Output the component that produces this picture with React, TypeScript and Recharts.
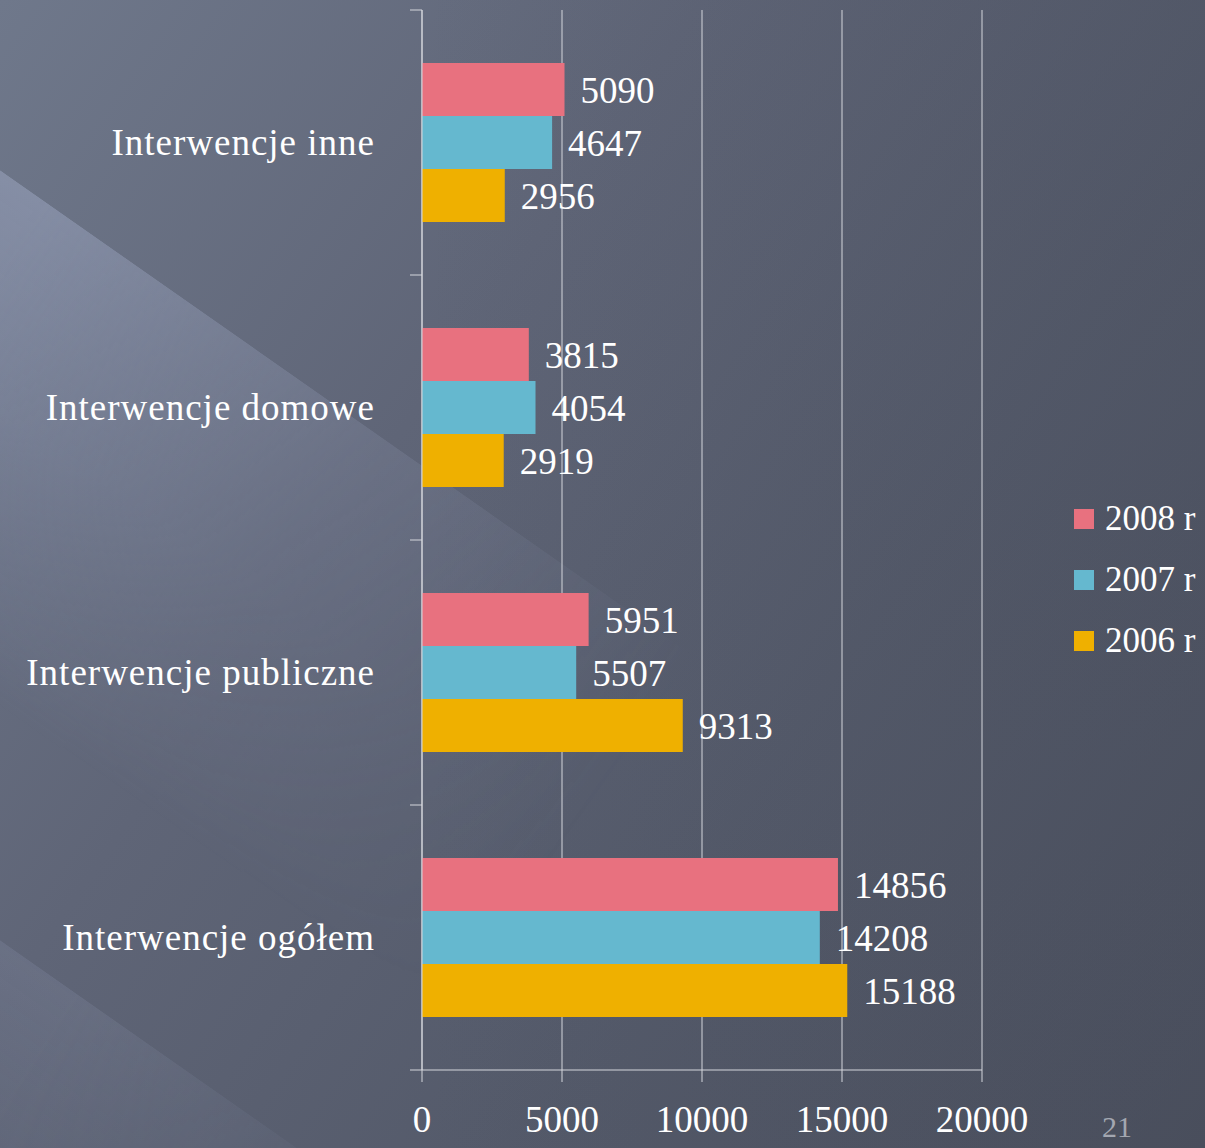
import React from "react";
import {
  BarChart,
  Bar,
  XAxis,
  YAxis,
  CartesianGrid,
  LabelList,
} from "recharts";

const categories = [
  "Interwencje inne",
  "Interwencje domowe",
  "Interwencje publiczne",
  "Interwencje ogółem",
];

const values2008 = [5090, 3815, 5951, 14856];
const values2007 = [4647, 4054, 5507, 14208];
const values2006 = [2956, 2919, 9313, 15188];

const seriesNames = ["2008 r", "2007 r", "2006 r"];
const seriesColors = ["#E8717F", "#65B8CF", "#EFB000"];

const xTicks = [0, 5000, 10000, 15000, 20000];

const FONT = "'Liberation Serif', 'DejaVu Serif', serif";
const TEXT = "#ffffff";
const LINE = "#d4d6dc";

const CHART_W = 1205;
const CHART_H = 1148;
const MARGIN = { top: 10, right: 223, bottom: 0, left: 0 };
const X_AXIS_H = 78;
const Y_LABEL_GAP = 47;
const EDGE_TICK = 12;

// height of one category band, used only for the little separator ticks
const bandHeight =
  (CHART_H - MARGIN.top - MARGIN.bottom - X_AXIS_H) / categories.length;

const chartData = categories.map((name, i) => ({
  name,
  y2008: values2008[i],
  y2007: values2007[i],
  y2006: values2006[i],
}));

const seriesKeys = ["y2008", "y2007", "y2006"];

function CategoryTick(props: any) {
  const { x, y, payload, index } = props;
  const axisX = x + Y_LABEL_GAP;
  const half = bandHeight / 2;
  return (
    <g>
      <line
        x1={axisX - EDGE_TICK}
        x2={axisX}
        y1={y - half}
        y2={y - half}
        stroke={LINE}
      />
      {index === categories.length - 1 && (
        <line
          x1={axisX - EDGE_TICK}
          x2={axisX}
          y1={y + half}
          y2={y + half}
          stroke={LINE}
        />
      )}
      <text
        x={x}
        y={y}
        dy="0.35em"
        textAnchor="end"
        fill={TEXT}
        fontSize={37}
        fontFamily={FONT}
        letterSpacing={1}
      >
        {payload.value}
      </text>
    </g>
  );
}

function LegendBox() {
  return (
    <div
      style={{
        position: "absolute",
        left: 1074,
        top: 488,
        fontFamily: FONT,
      }}
    >
      {seriesNames.map((name, i) => (
        <div
          key={name}
          style={{
            display: "flex",
            alignItems: "center",
            height: 61,
            color: TEXT,
            fontSize: 35,
            whiteSpace: "nowrap",
          }}
        >
          <span
            style={{
              display: "inline-block",
              width: 20,
              height: 20,
              background: seriesColors[i],
              marginRight: 11,
            }}
          />
          {name}
        </div>
      ))}
    </div>
  );
}

export default function App() {
  return (
    <div
      style={{
        position: "absolute",
        left: 0,
        top: 0,
        width: CHART_W,
        height: CHART_H,
        overflow: "hidden",
        background:
          "linear-gradient(to right, rgba(70,75,90,0) 35%, rgba(70,75,90,0.25) 100%), linear-gradient(125deg, #6f788b 0%, #5f6577 35%, #545a6a 65%, #4a4f5d 100%)",
      }}
    >
      {/* light diagonal streaks of the slide background */}
      <div
        style={{
          position: "absolute",
          left: -150,
          top: 65,
          width: 1150,
          height: 440,
          transform: "rotate(35deg)",
          transformOrigin: "0 0",
          background:
            "linear-gradient(to bottom, rgba(175,185,215,0.38) 0%, rgba(165,175,205,0.3) 45%, rgba(160,170,200,0.12) 85%, rgba(160,170,200,0) 100%)",
          WebkitMaskImage:
            "linear-gradient(to right, #000 0%, #000 20%, rgba(0,0,0,0.4) 55%, transparent 90%)",
          maskImage:
            "linear-gradient(to right, #000 0%, #000 20%, rgba(0,0,0,0.4) 55%, transparent 90%)",
        }}
      />
      <div
        style={{
          position: "absolute",
          left: -100,
          top: 870,
          width: 700,
          height: 260,
          transform: "rotate(35deg)",
          transformOrigin: "0 0",
          background:
            "linear-gradient(to bottom, rgba(170,180,210,0.14) 0%, rgba(170,180,210,0.06) 70%, rgba(170,180,210,0) 100%)",
          WebkitMaskImage:
            "linear-gradient(to right, #000 0%, #000 30%, transparent 90%)",
          maskImage:
            "linear-gradient(to right, #000 0%, #000 30%, transparent 90%)",
        }}
      />
      <BarChart
        width={CHART_W}
        height={CHART_H}
        data={chartData}
        layout="vertical"
        margin={MARGIN}
        barCategoryGap="20%"
        barGap={0}
      >
        <CartesianGrid horizontal={false} stroke={LINE} strokeWidth={1} />
        <XAxis
          type="number"
          domain={[0, 20000]}
          ticks={xTicks}
          interval={0}
          height={X_AXIS_H}
          tickSize={12}
          tickMargin={24}
          stroke={LINE}
          tick={{ fill: TEXT, fontSize: 37, fontFamily: FONT }}
        />
        <YAxis
          type="category"
          dataKey="name"
          width={422}
          tickLine={false}
          tickSize={0}
          tickMargin={Y_LABEL_GAP}
          stroke={LINE}
          tick={<CategoryTick />}
        />
        {seriesKeys.map((key, i) => (
          <Bar
            key={key}
            dataKey={key}
            name={seriesNames[i]}
            fill={seriesColors[i]}
            isAnimationActive={false}
          >
            <LabelList
              dataKey={key}
              position="right"
              offset={16}
              fill={TEXT}
              fontSize={37}
              fontFamily={FONT}
            />
          </Bar>
        ))}
      </BarChart>
      <LegendBox />
      <div
        style={{
          position: "absolute",
          left: 1102,
          top: 1110,
          fontFamily: FONT,
          fontSize: 30,
          color: "#a3a7b1",
        }}
      >
        21
      </div>
    </div>
  );
}
